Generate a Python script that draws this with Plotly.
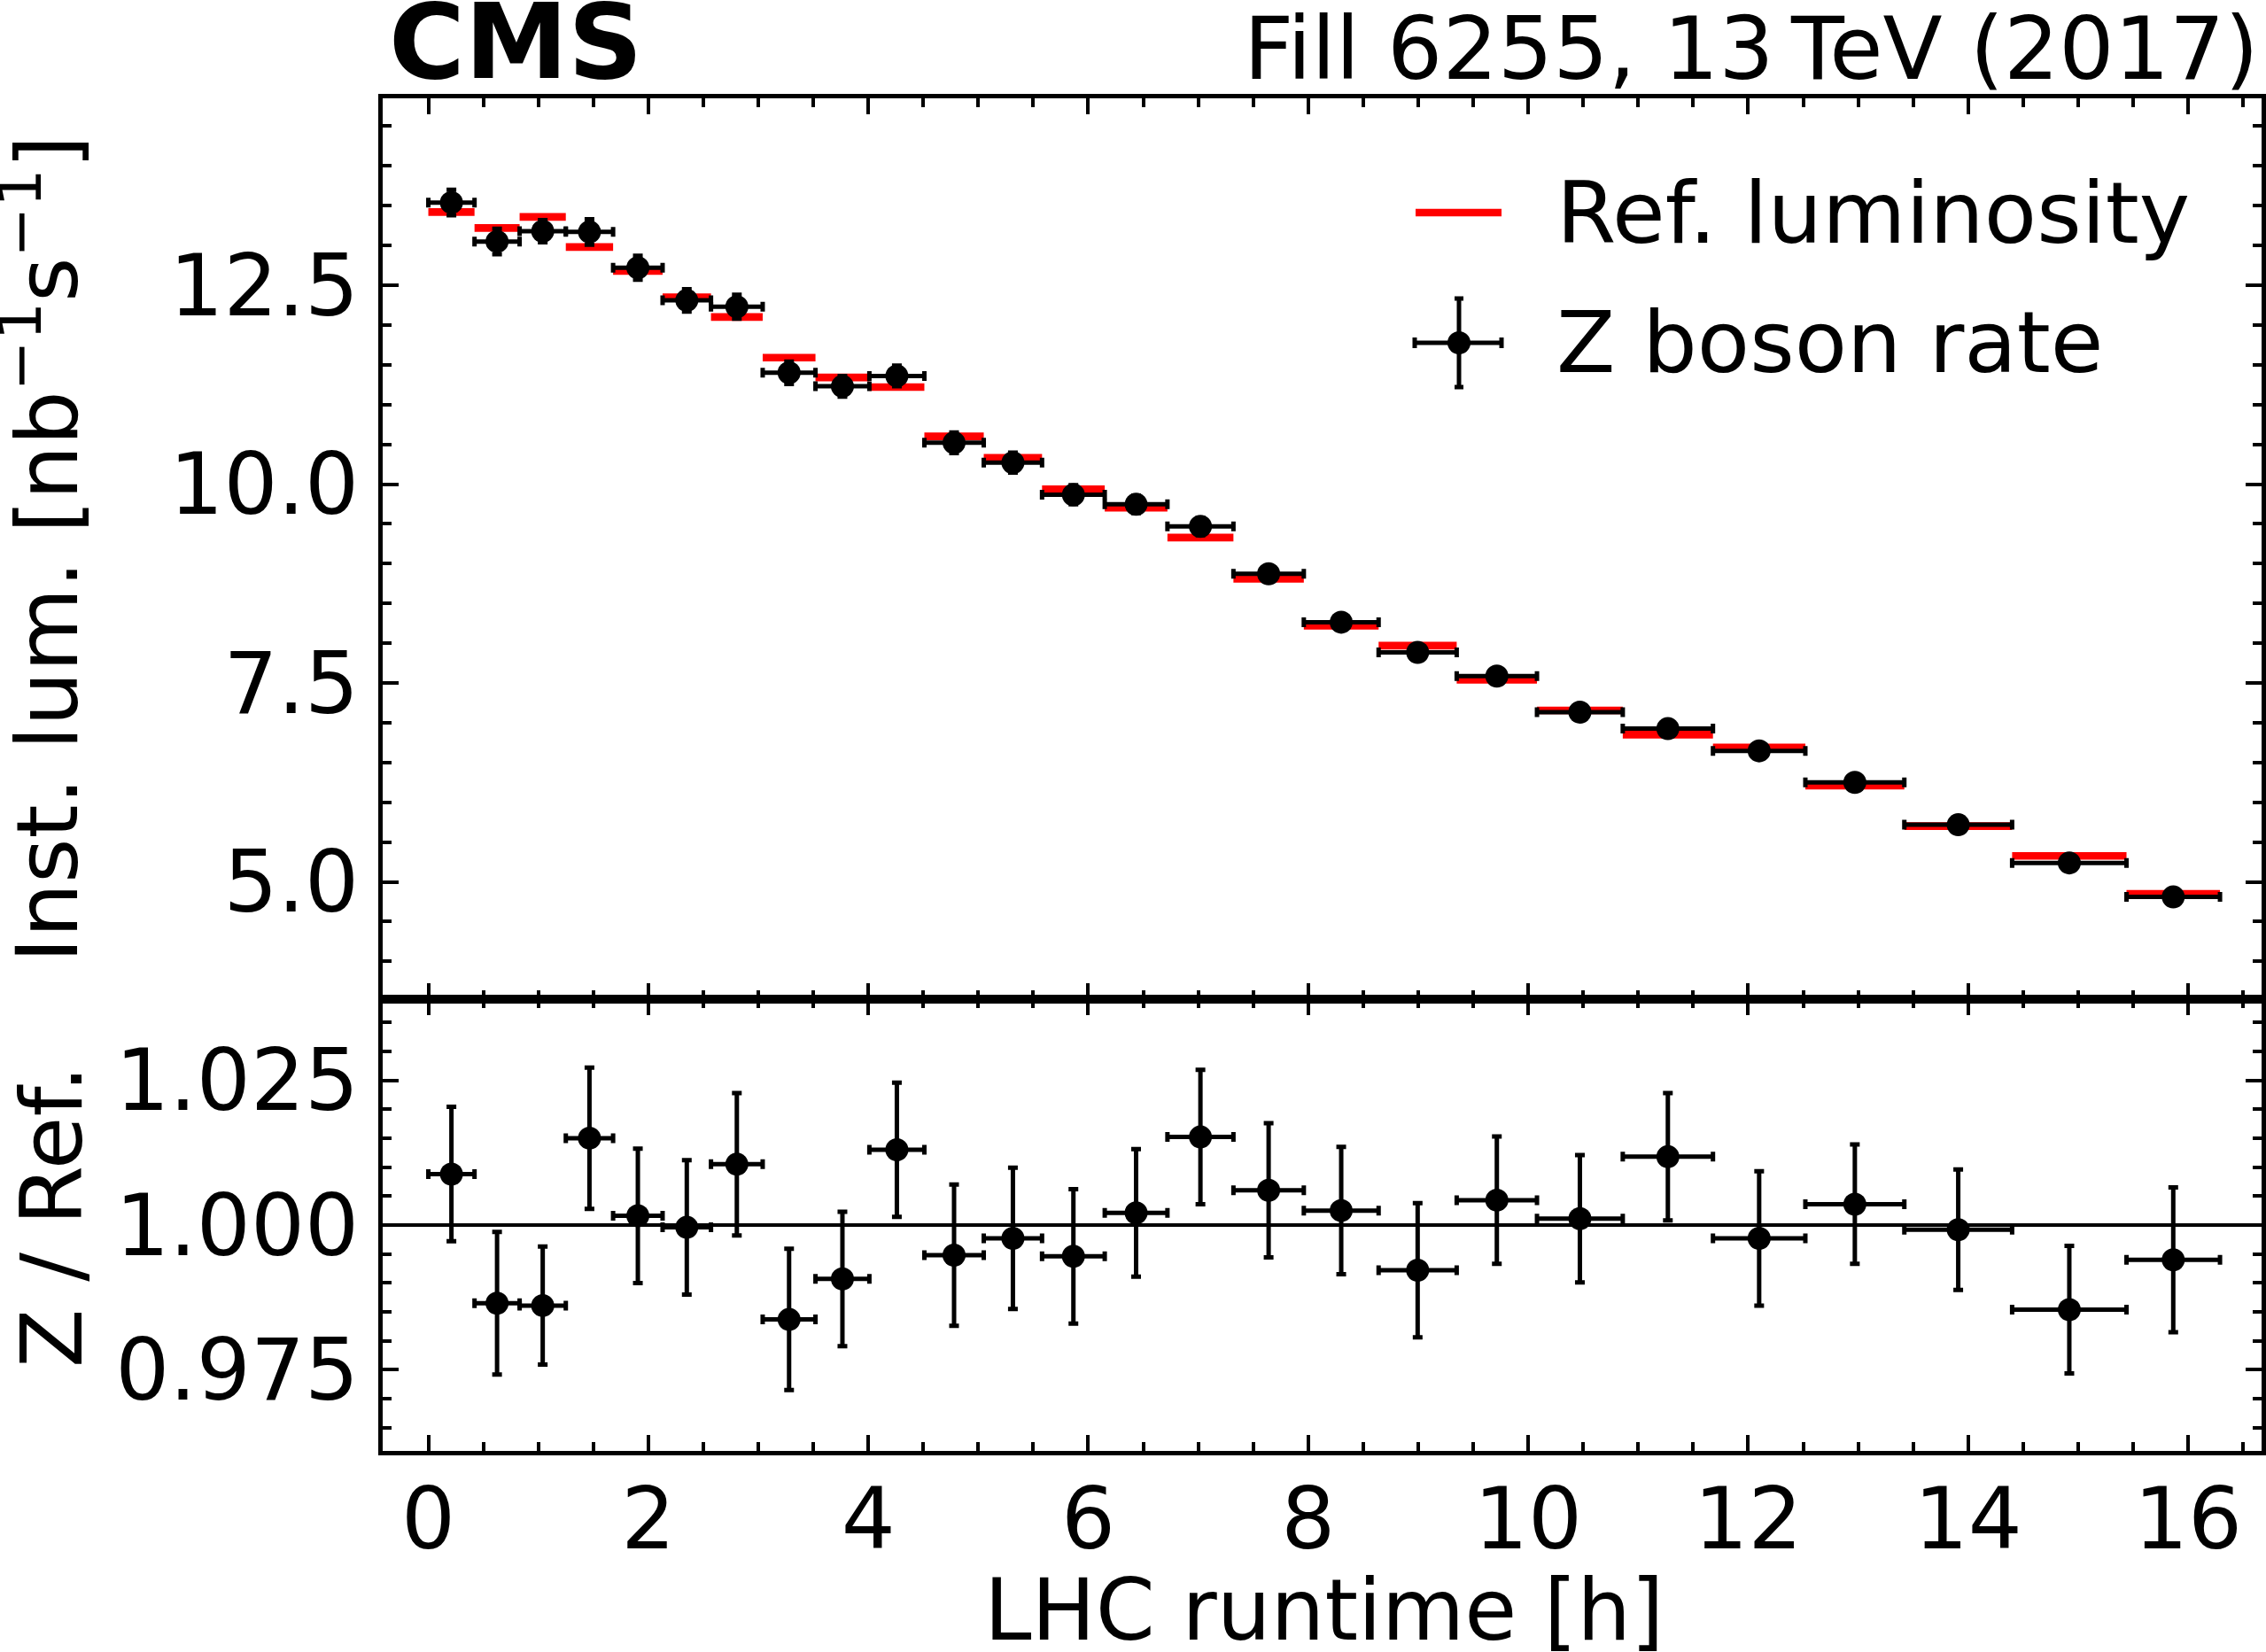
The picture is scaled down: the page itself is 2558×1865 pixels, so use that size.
import numpy as np
import plotly.graph_objects as go

# ---------------- data ----------------
bin_edges = [0.0, 0.42, 0.83, 1.25, 1.68, 2.13, 2.57, 3.04, 3.52, 4.01, 4.51,
             5.05, 5.58, 6.15, 6.72, 7.32, 7.96, 8.64, 9.35, 10.08, 10.86,
             11.68, 12.52, 13.42, 14.40, 15.44, 16.29]

z_rate = [13.54, 13.05, 13.18, 13.17, 12.72, 12.31, 12.23, 11.40, 11.23, 11.36,
          10.52, 10.27, 9.866, 9.746, 9.468, 8.873, 8.264, 7.885, 7.587, 7.133,
          6.926, 6.647, 6.25, 5.718, 5.238, 4.81]

z_rate_err = [0.16, 0.16, 0.14, 0.16, 0.15, 0.14, 0.15, 0.14, 0.13, 0.13,
              0.13, 0.125, 0.12, 0.11, 0.11, 0.10, 0.095, 0.09, 0.085, 0.08,
              0.075, 0.077, 0.07, 0.06, 0.06, 0.06]

ref_lumi = [13.42, 13.22, 13.36, 12.98, 12.68, 12.35, 12.10, 11.59, 11.34, 11.22,
            10.60, 10.33, 9.936, 9.705, 9.327, 8.81, 8.22, 7.97, 7.54, 7.155,
            6.85, 6.688, 6.21, 5.70, 5.326, 4.85]

ratio = [1.0088, 0.9865, 0.9861, 1.0150, 1.0016, 0.9996, 1.0105, 0.9837, 0.9907, 1.0130,
         0.9948, 0.9977, 0.9946, 1.0021, 1.0152, 1.0060, 1.0025, 0.9922, 1.0043, 1.0011,
         1.0118, 0.9977, 1.0036, 0.9992, 0.9854, 0.9940]

ratio_err = [0.0116, 0.0123, 0.0102, 0.0122, 0.0116, 0.0116, 0.0123, 0.0122, 0.0116, 0.0116,
             0.0122, 0.0122, 0.0116, 0.0110, 0.0116, 0.0116, 0.0110, 0.0116, 0.0110, 0.0110,
             0.0110, 0.0116, 0.0103, 0.0104, 0.0110, 0.0125]

x_ticks = [0, 2, 4, 6, 8, 10, 12, 14, 16]
lum_ticks = [5.0, 7.5, 10.0, 12.5]
ratio_ticks = [0.975, 1.000, 1.025]

# ---------------- derived ----------------
edges = np.array(bin_edges)
centers = 0.5 * (edges[:-1] + edges[1:])
halfw = 0.5 * (edges[1:] - edges[:-1])

ref_x, ref_y = [], []
for lo, hi, v in zip(edges[:-1], edges[1:], ref_lumi):
    ref_x += [lo, hi, None]
    ref_y += [v, v, None]

W, H = 2558, 1865
def px(xp):
    return xp / W
def py(yp):
    return 1 - yp / H

FONT = "DejaVu Sans"
FS = 96

fig = go.Figure()

fig.add_trace(go.Scatter(
    x=ref_x, y=ref_y, mode="lines", xaxis="x", yaxis="y",
    line=dict(color="#ff0000", width=8.7), showlegend=False, hoverinfo="skip"))

fig.add_trace(go.Scatter(
    x=centers, y=z_rate, mode="markers", xaxis="x", yaxis="y",
    marker=dict(color="black", size=26),
    error_x=dict(type="data", array=halfw, color="black", thickness=5, width=5.5),
    error_y=dict(type="data", array=z_rate_err, color="black", thickness=5, width=5.5),
    showlegend=False))

fig.add_trace(go.Scatter(
    x=centers, y=ratio, mode="markers", xaxis="x2", yaxis="y2",
    marker=dict(color="black", size=26),
    error_x=dict(type="data", array=halfw, color="black", thickness=5, width=5.5),
    error_y=dict(type="data", array=ratio_err, color="black", thickness=5, width=5.5),
    showlegend=False))

xdom = [px(432), px(2553)]
ydom_up = [py(1128), py(111)]
ydom_lo = [py(1638), py(1128)]

common_axis = dict(
    showline=True, linewidth=4.5, linecolor="black", mirror="ticks",
    ticks="inside", ticklen=18, tickwidth=4, tickcolor="black",
    showgrid=False, zeroline=False, automargin=False,
    tickfont=dict(family=FONT, size=FS, color="black"),
)

fig.update_layout(
    width=W, height=H,
    margin=dict(l=0, r=0, t=0, b=0),
    paper_bgcolor="white", plot_bgcolor="white",
    showlegend=False,
    xaxis=dict(domain=xdom, anchor="y", range=[-0.415, 16.668],
               tickvals=x_ticks, showticklabels=False,
               minor=dict(dtick=0.5, tick0=0, ticks="inside", ticklen=10, tickwidth=4, tickcolor="black"),
               **common_axis),
    xaxis2=dict(domain=xdom, anchor="y2", range=[-0.415, 16.668],
                tickvals=x_ticks, ticktext=[str(t) for t in x_ticks],
                ticklabelstandoff=-10,
                minor=dict(dtick=0.5, tick0=0, ticks="inside", ticklen=10, tickwidth=4, tickcolor="black"),
                **common_axis),
    yaxis=dict(domain=ydom_up, anchor="x", range=[3.525, 14.85],
               tickvals=lum_ticks, ticktext=["%.1f" % t for t in lum_ticks],
               ticklabelstandoff=3,
               minor=dict(dtick=0.5, tick0=0, ticks="inside", ticklen=10, tickwidth=4, tickcolor="black"),
               **common_axis),
    yaxis2=dict(domain=ydom_lo, anchor="x2", range=[0.961, 1.039],
                tickvals=ratio_ticks, ticktext=["%.3f" % t for t in ratio_ticks],
                ticklabelstandoff=3,
                minor=dict(dtick=0.005, tick0=0, ticks="inside", ticklen=10, tickwidth=4, tickcolor="black"),
                **common_axis),
)

# reference line at 1 in ratio panel
fig.add_shape(type="line", xref="x2 domain", yref="y2", x0=0, x1=1, y0=1, y1=1,
              line=dict(color="black", width=4), layer="below")

# texts
ann = []
ann.append(dict(text="<b>CMS</b>", x=px(437), y=py(48), xanchor="left", yanchor="middle",
                font=dict(family=FONT, size=117, color="black")))
ann.append(dict(text="Fill 6255, 13\u2009TeV (2017)", x=px(2552), y=py(55), xanchor="right", yanchor="middle",
                font=dict(family=FONT, size=98, color="black")))
ann.append(dict(text="LHC runtime [h]", x=px(1495), y=py(1818), xanchor="center", yanchor="middle",
                font=dict(family=FONT, size=FS, color="black")))
ann.append(dict(text="Inst. lum. [nb<sup>\u22121</sup>s<sup>\u22121</sup>]", x=px(46), y=py(620),
                xanchor="center", yanchor="middle", textangle=-90,
                font=dict(family=FONT, size=97, color="black")))
ann.append(dict(text="Z / Ref.", x=px(58), y=py(1374), xanchor="center", yanchor="middle", textangle=-90,
                font=dict(family=FONT, size=97, color="black")))
# legend labels
ann.append(dict(text="Ref. luminosity", x=px(1755), y=py(241), xanchor="left", yanchor="middle",
                font=dict(family=FONT, size=97, color="black")))
ann.append(dict(text="Z boson rate", x=px(1755), y=py(387), xanchor="left", yanchor="middle",
                font=dict(family=FONT, size=97, color="black")))
for a in ann:
    a.update(xref="paper", yref="paper", showarrow=False)
fig.update_layout(annotations=ann)

# legend handles (paper coordinates)
def pline(x0, y0, x1, y1, color, width):
    fig.add_shape(type="line", xref="paper", yref="paper",
                  x0=px(x0), y0=py(y0), x1=px(x1), y1=py(y1),
                  line=dict(color=color, width=width))

pline(1598, 240, 1695, 240, "#ff0000", 8.7)
cx, cy = 1647, 387
pline(1597, cy, 1695, cy, "black", 5)
pline(1597, cy - 6, 1597, cy + 6, "black", 5)
pline(1695, cy - 6, 1695, cy + 6, "black", 5)
pline(cx, 337, cx, 437, "black", 5)
pline(cx - 5, 337, cx + 5, 337, "black", 5)
pline(cx - 5, 437, cx + 5, 437, "black", 5)
fig.add_shape(type="circle", xref="paper", yref="paper",
              x0=px(cx - 13), x1=px(cx + 13), y0=py(cy + 13), y1=py(cy - 13),
              fillcolor="black", line=dict(color="black", width=0))

fig.write_html("out.html", config={"displayModeBar": False},
               post_script="document.body.style.margin='0';")
